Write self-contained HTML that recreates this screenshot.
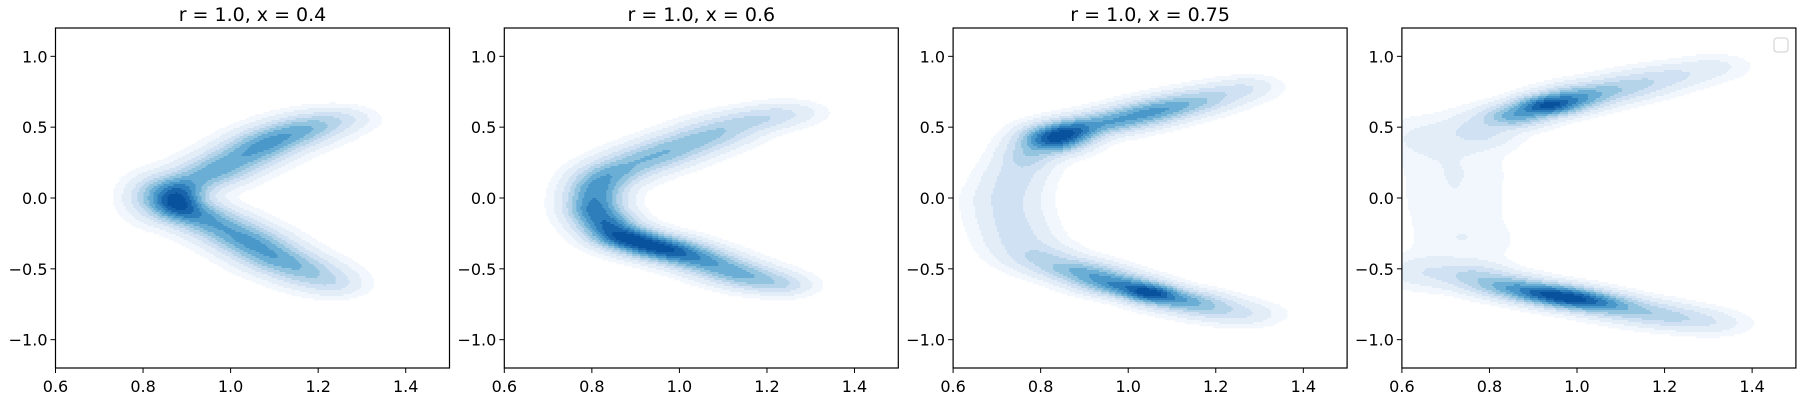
<!DOCTYPE html>
<html><head><meta charset="utf-8"><style>
body{margin:0;background:#fff;width:1800px;height:400px;overflow:hidden}
svg text{font-family:"DejaVu Sans","Liberation Sans",sans-serif;fill:#000}
</style></head><body>
<svg id="fig" width="1800" height="400" xmlns="http://www.w3.org/2000/svg"></svg>
<script>
// Data
const panelTitles = ["r = 1.0, x = 0.4", "r = 1.0, x = 0.6", "r = 1.0, x = 0.75", ""];
const xTicks = [0.6, 0.8, 1.0, 1.2, 1.4];
const yTicks = [-1.0, -0.5, 0.0, 0.5, 1.0];
// density blobs: [x, y, sx, sy, weight]
const blobs1 = [[0.88,-0.03,0.035,0.07,0.95],[0.83,0.0,0.04,0.09,0.4],[0.89,0.08,0.045,0.06,0.5],[0.95,0.17,0.05,0.06,0.45],[1.0,0.25,0.05,0.06,0.45],[1.05,0.33,0.05,0.06,0.45],[1.09,0.4,0.05,0.06,0.45],[1.14,0.46,0.05,0.06,0.38],[1.19,0.51,0.05,0.06,0.3],[1.25,0.56,0.045,0.05,0.16],[0.92,-0.11,0.045,0.06,0.55],[0.97,-0.19,0.05,0.06,0.48],[1.02,-0.27,0.05,0.06,0.45],[1.06,-0.34,0.05,0.06,0.45],[1.1,-0.42,0.05,0.06,0.45],[1.15,-0.49,0.05,0.06,0.35],[1.2,-0.56,0.05,0.06,0.25],[1.24,-0.62,0.04,0.05,0.12]];
const blobs2 = [[0.8,0.0,0.04,0.09,0.42],[0.82,0.1,0.04,0.07,0.38],[0.86,0.19,0.045,0.06,0.36],[0.92,0.27,0.05,0.06,0.33],[0.98,0.34,0.05,0.06,0.31],[1.04,0.41,0.05,0.06,0.28],[1.1,0.48,0.05,0.06,0.25],[1.17,0.55,0.05,0.05,0.2],[1.24,0.6,0.05,0.05,0.13],[0.81,-0.1,0.04,0.07,0.48],[0.84,-0.2,0.04,0.06,0.62],[0.88,-0.28,0.045,0.05,0.8],[0.94,-0.34,0.05,0.05,0.8],[1.0,-0.39,0.05,0.05,0.6],[1.06,-0.45,0.05,0.05,0.45],[1.12,-0.52,0.05,0.05,0.4],[1.18,-0.58,0.05,0.05,0.3],[1.24,-0.62,0.04,0.045,0.15]];
const blobs3 = [[0.83,0.42,0.045,0.06,0.9],[0.88,0.48,0.04,0.05,0.5],[0.95,0.53,0.05,0.05,0.4],[1.02,0.58,0.05,0.05,0.38],[1.08,0.63,0.05,0.05,0.38],[1.15,0.68,0.05,0.05,0.28],[1.22,0.74,0.05,0.05,0.15],[1.28,0.79,0.04,0.045,0.08],[0.77,0.3,0.04,0.07,0.25],[0.74,0.15,0.045,0.08,0.14],[0.72,0.0,0.05,0.08,0.12],[0.73,-0.15,0.05,0.08,0.12],[0.75,-0.3,0.05,0.08,0.14],[0.8,-0.42,0.05,0.06,0.2],[0.87,-0.5,0.05,0.05,0.3],[0.93,-0.56,0.05,0.05,0.4],[0.99,-0.62,0.05,0.045,0.55],[1.05,-0.67,0.04,0.04,0.8],[1.11,-0.72,0.05,0.045,0.45],[1.18,-0.77,0.05,0.05,0.25],[1.26,-0.82,0.05,0.05,0.12]];
const blobs4 = [[0.93,0.65,0.045,0.045,0.9],[0.86,0.58,0.045,0.05,0.5],[0.99,0.7,0.05,0.05,0.5],[1.06,0.75,0.06,0.05,0.3],[1.14,0.81,0.06,0.05,0.2],[1.22,0.87,0.06,0.05,0.13],[1.31,0.93,0.05,0.05,0.07],[0.78,0.48,0.05,0.08,0.18],[0.66,0.42,0.06,0.09,0.08],[0.72,0.2,0.07,0.12,0.05],[0.72,-0.05,0.07,0.12,0.045],[0.74,-0.3,0.07,0.1,0.05],[0.65,-0.52,0.05,0.07,0.12],[0.76,-0.55,0.05,0.06,0.25],[0.84,-0.62,0.05,0.05,0.45],[0.92,-0.67,0.05,0.045,0.75],[0.99,-0.71,0.05,0.045,0.85],[1.06,-0.75,0.05,0.045,0.5],[1.14,-0.8,0.06,0.05,0.28],[1.23,-0.85,0.06,0.05,0.2],[1.31,-0.89,0.05,0.05,0.08]];
const panelBlobs = [blobs1, blobs2, blobs3, blobs4];
const colors = ['#f1f7fd','#e2edf8','#cfe1f2','#b5d4e9','#93c4df','#6aaed6','#4a98c9','#2e7ebc','#1764ab','#08519c'];
const levels = [0.04,0.1,0.2,0.3,0.4,0.5,0.6,0.7,0.8,0.9];

const NS = "http://www.w3.org/2000/svg";
const svg = document.getElementById('fig');
function mk(tag, attrs, parent){const e=document.createElementNS(NS,tag);for(const k in attrs)e.setAttribute(k,attrs[k]);(parent||svg).appendChild(e);return e;}
const PW=394, PH=340, TOP=28, LEFTS=[55.5,504.3,953.1,1401.9];
const XMIN=0.6,XMAX=1.5,YMIN=-1.2,YMAX=1.2;
const GAMMA=0.75;

LEFTS.forEach((L,pi)=>{
  const g=mk('g',{});
  
  
  const sx=v=>L+(v-XMIN)/(XMAX-XMIN)*PW;
  const sy=v=>TOP+(YMAX-v)/(YMAX-YMIN)*PH;
  const bl=panelBlobs[pi];
  const dens=(x,y)=>{let s=0;for(const b of bl){const dx=(x-b[0])/b[2],dy=(y-b[1])/b[3];s+=b[4]*Math.exp(-0.5*(dx*dx+dy*dy));}return s;};
  const C=2, nx=Math.ceil(PW/C), ny=Math.ceil(PH/C);
  const grid=[];let mx=0;
  for(let j=0;j<ny;j++){const row=[];for(let i=0;i<nx;i++){const x=XMIN+(i+0.5)*C/PW*(XMAX-XMIN);const y=YMAX-(j+0.5)*C/PH*(YMAX-YMIN);const d=dens(x,y);row.push(d);if(d>mx)mx=d;}grid.push(row);}
  function lvl(v){v=Math.pow(v,GAMMA);let l=-1;for(let q=0;q<levels.length;q++)if(v>=levels[q])l=q;return l;}
  const dg=mk('g',{},g);
  
  
  for(let j=0;j<ny;j++){let i=0;while(i<nx){const lv=lvl(grid[j][i]/mx);let k=i+1;while(k<nx&&lvl(grid[j][k]/mx)===lv)k++;if(lv>=0){const r=mk('rect',{x:L+i*C,y:TOP+j*C,width:Math.min((k-i)*C,PW-i*C)+0.3,height:Math.min(C,PH-j*C)+0.3,fill:colors[lv]},dg);}i=k;}}
  const fr=mk('rect',{x:L,y:TOP,width:PW,height:PH,fill:'none',stroke:'#000','stroke-width':1.2},g);
  
  xTicks.forEach(t=>{const x=sx(t);mk('line',{x1:x,x2:x,y1:TOP+PH,y2:TOP+PH+5,stroke:'#000'},g);const tx=mk('text',{x:x,y:392,'font-size':16,'text-anchor':'middle'},g);tx.textContent=t.toFixed(1);});
  yTicks.forEach(t=>{const y=sy(t);mk('line',{x1:L-5,x2:L,y1:y,y2:y,stroke:'#000'},g);const tx=mk('text',{x:L-8,y:y+6,'font-size':16,'text-anchor':'end'},g);tx.textContent=(t<0?'\u2212':'')+Math.abs(t).toFixed(1);});
  if(panelTitles[pi]){const tt=mk('text',{x:L+PW/2,y:21,'font-size':19,'text-anchor':'middle'},g);tt.textContent=panelTitles[pi];}
  if(pi===3){const lg=mk('rect',{x:1774,y:38,width:14,height:14,rx:3,fill:'#fff',stroke:'#ccc','stroke-width':1},g);}
});
</script>
</body></html>
